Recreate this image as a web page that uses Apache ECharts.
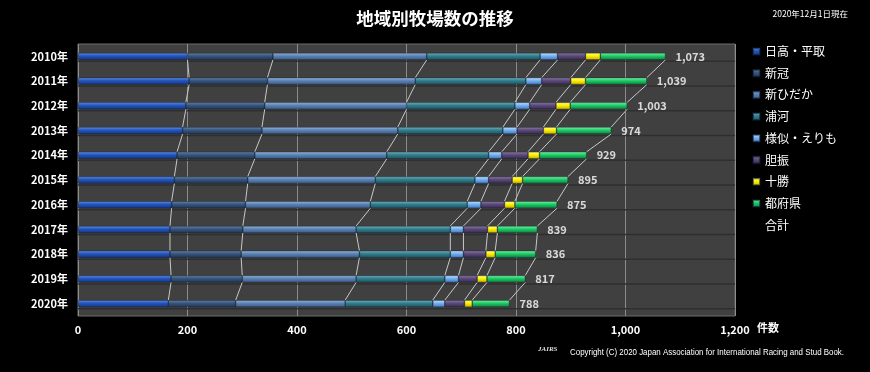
<!DOCTYPE html>
<html><head><meta charset="utf-8">
<script src="https://cdn.jsdelivr.net/npm/echarts@6/dist/echarts.min.js"></script>
<style>html,body{margin:0;padding:0;background:#000;}#c{width:870px;height:372px;}</style>
</head><body><div id="c"></div>
<script>
const years = ['2010年','2011年','2012年','2013年','2014年','2015年','2016年','2017年','2018年','2019年','2020年'];
const hidaka     = [200,203,197,191,181,176,171,168,168,170,165];
const niikappu   = [156,143,144,145,142,134,135,133,130,130,123];
const shinhidaka = [281,270,259,248,241,233,228,207,216,208,200];
const urakawa    = [207,202,198,192,186,182,177,172,166,162,160];
const samani     = [32,29,27,26,24,25,25,24,24,25,22];
const iburi      = [51,53,48,48,48,43,43,44,41,34,36];
const tokachi    = [27,27,26,24,21,19,19,18,17,18,14];
const fuken      = [119,112,104,100,86,83,77,73,74,70,68];
const totals     = [1073,1039,1003,974,929,895,875,839,836,817,788];
const seriesNames = ['日高・平取','新冠','新ひだか','浦河','様似・えりも','胆振','十勝','都府県'];
const xTicks = [0,200,400,600,800,1000,1200];

const valueArrays = [hidaka,niikappu,shinhidaka,urakawa,samani,iburi,tokachi,fuken];
const palettes = [
  ['#5f8fe8','#2454bc','#143680'],
  ['#6683a8','#37557c','#213654'],
  ['#97b6dc','#5b82b3','#3a5a86'],
  ['#72b3c0','#327d8b','#1e5460'],
  ['#c4e2ff','#74b0ef','#3f78c2'],
  ['#8c7ca8','#5b4979','#372a50'],
  ['#ffff90','#fff000','#c4b200'],
  ['#7af3a8','#1ecb66','#0f7e3e']
];
function grad(p){
  return new echarts.graphic.LinearGradient(0,0,0,1,[
    {offset:0,color:p[0]},{offset:0.45,color:p[1]},{offset:1,color:p[2]}]);
}
const BAR = 7;
const cum = years.map((y,i)=>{ let s=0; return valueArrays.map(a=>{ s+=a[i]; return s; }); });
const linkData = [];
for (let i=0;i<years.length-1;i++){ linkData.push([i].concat(cum[i], cum[i+1])); }
const floorData = years.map((y,i)=>[i]);

const fmt = v => String(v).replace(/\B(?=(\d{3})+(?!\d))/g, ',');
const font = '"Noto Sans CJK JP", "Noto Sans", sans-serif';

const series = valueArrays.map((arr,k)=>({
  name: seriesNames[k], type:'bar', stack:'all', barWidth: BAR, z: 3,
  data: arr,
  itemStyle: {color: grad(palettes[k]), borderColor:'rgba(10,20,40,0.55)', borderWidth:0.6}
}));
series.push({
  name:'合計', type:'scatter', symbolSize:0.01, z:4,
  data: totals.map((t,i)=>[t,i]),
  itemStyle:{color:'rgba(0,0,0,0)'},
  label:{show:true, position:'right', distance:10, color:'#fff', fontWeight:'bold', fontSize:11, fontFamily:font,
    formatter: p=>fmt(p.value[0])}
});
series.push({
  type:'custom', z:1, silent:true, data: floorData,
  encode:{y:0},
  renderItem:(params, api)=>{
    const i = api.value(0);
    const a = api.coord([0,i]); const b = api.coord([1200,i]);
    return {type:'line', shape:{x1:a[0],y1:a[1]+BAR/2+1.5,x2:b[0],y2:b[1]+BAR/2+1.5},
      style:{stroke:'#2f2f2f', lineWidth:1.5}};
  }
});
series.push({
  type:'custom', z:2, silent:true, data: linkData,
  encode:{y:0, x:1},
  renderItem:(params, api)=>{
    const i = api.value(0);
    const n = valueArrays.length;
    const children = [];
    for (let k=0;k<n;k++){
      const p1 = api.coord([api.value(1+k), i]);
      const p2 = api.coord([api.value(1+n+k), i+1]);
      children.push({type:'line', shape:{x1:p1[0],y1:p1[1]+BAR/2,x2:p2[0],y2:p2[1]-BAR/2},
        style:{stroke:'#c8c8c8', lineWidth:1}});
    }
    return {type:'group', children};
  }
});

const copyText = 'Copyright (C) 2020 Japan Association for International Racing and Stud Book.';
const cv = document.createElement('canvas').getContext('2d');
cv.font = '9px "Liberation Sans"';
const copyScale = 274 / cv.measureText(copyText).width;

const chart = echarts.init(document.getElementById('c'), null, {renderer:'canvas'});
chart.setOption({
  backgroundColor:'#000',
  animation:false,
  title:{text:'地域別牧場数の推移', left:'center', top:5,
    textStyle:{color:'#fff', fontSize:17.5, fontWeight:'bold', fontFamily:font}},
  legend:{
    orient:'vertical', left:747, top:40, itemWidth:7, itemHeight:7, itemGap:8.7,
    textStyle:{color:'#fff', fontSize:12, fontFamily:font, lineHeight:13},
    data: seriesNames.map(n=>({name:n, icon:'rect'})).concat([{name:'合計', icon:'none'}])
  },
  grid:{left:78, right:135, top:44, bottom:56, show:true, backgroundColor:'#404040',
    borderColor:'#6c6c6c', borderWidth:1},
  xAxis:{type:'value', min:xTicks[0], max:xTicks[xTicks.length-1], interval:xTicks[1]-xTicks[0],
    name:'件数', nameLocation:'end', nameGap:22,
    nameTextStyle:{color:'#fff', fontSize:11, fontWeight:'bold', fontFamily:font, verticalAlign:'top', padding:[6,0,0,0]},
    axisLine:{show:false}, axisTick:{show:false},
    axisLabel:{color:'#fff', fontSize:11, fontWeight:'bold', fontFamily:font, margin:8, formatter:v=>fmt(v)},
    splitLine:{lineStyle:{color:'#8c8c8c', width:1}}},
  yAxis:{type:'category', data:years, inverse:true,
    axisLine:{show:false}, axisTick:{show:false},
    axisLabel:{color:'#fff', fontSize:11, fontWeight:'bold', fontFamily:font, margin:10}},
  graphic:[
    {type:'text', right:22, top:10, style:{text:'2020年12月1日現在', fill:'#fff', fontSize:8.5, fontFamily:font}},
    {type:'text', left:538, top:346, style:{text:'JAIRS', fill:'#ddd', fontSize:7, fontStyle:'italic', fontWeight:'bold', fontFamily:'Liberation Serif'}},
    {type:'text', x:570, y:348, scaleX:copyScale, style:{text:copyText, fill:'#fff', fontSize:9, fontFamily:'"Liberation Sans"'}}
  ],
  series
});
</script>
</body></html>
